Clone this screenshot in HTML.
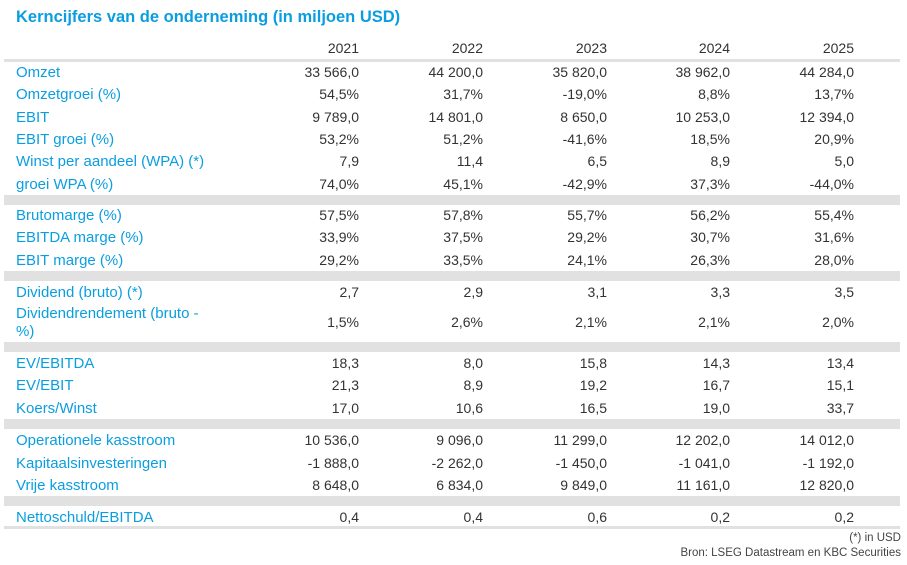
<!DOCTYPE html>
<html><head><meta charset="utf-8"><style>
body{margin:0;width:907px;height:565px;background:#fff;position:relative;font-family:"Liberation Sans",sans-serif;font-size:14px;color:#333;overflow:hidden}
div{position:absolute;white-space:nowrap}
.t{left:16px;top:8px;font-size:16.5px;font-weight:bold;color:#0a9ee0}
.l{left:16px;color:#0a9ee0;line-height:18px;font-size:15px;margin-top:1px}
.v{text-align:right;width:120px;line-height:18px}
.band{left:4px;width:896px;background:#e1e1e1}
.f{right:6px;font-size:11.5px;color:#444}
</style></head><body>
<div class="t">Kerncijfers van de onderneming (in miljoen USD)</div>
<div class="band" style="top:59px;height:3px"></div>
<div class="band" style="top:195px;height:10px"></div>
<div class="band" style="top:271px;height:10px"></div>
<div class="band" style="top:342px;height:10px"></div>
<div class="band" style="top:419px;height:10px"></div>
<div class="band" style="top:496px;height:10px"></div>
<div class="band" style="top:526px;height:3px"></div>

<div class="v" style="top:39px;left:239px">2021</div><div class="v" style="top:39px;left:363px">2022</div><div class="v" style="top:39px;left:487px">2023</div><div class="v" style="top:39px;left:610px">2024</div><div class="v" style="top:39px;left:734px">2025</div>

<div class="l" style="top:63px">Omzet</div><div class="v" style="top:63px;left:239px">33 566,0</div><div class="v" style="top:63px;left:363px">44 200,0</div><div class="v" style="top:63px;left:487px">35 820,0</div><div class="v" style="top:63px;left:610px">38 962,0</div><div class="v" style="top:63px;left:734px">44 284,0</div>
<div class="l" style="top:85px">Omzetgroei (%)</div><div class="v" style="top:85px;left:239px">54,5%</div><div class="v" style="top:85px;left:363px">31,7%</div><div class="v" style="top:85px;left:487px">-19,0%</div><div class="v" style="top:85px;left:610px">8,8%</div><div class="v" style="top:85px;left:734px">13,7%</div>
<div class="l" style="top:108px">EBIT</div><div class="v" style="top:108px;left:239px">9 789,0</div><div class="v" style="top:108px;left:363px">14 801,0</div><div class="v" style="top:108px;left:487px">8 650,0</div><div class="v" style="top:108px;left:610px">10 253,0</div><div class="v" style="top:108px;left:734px">12 394,0</div>
<div class="l" style="top:130px">EBIT groei (%)</div><div class="v" style="top:130px;left:239px">53,2%</div><div class="v" style="top:130px;left:363px">51,2%</div><div class="v" style="top:130px;left:487px">-41,6%</div><div class="v" style="top:130px;left:610px">18,5%</div><div class="v" style="top:130px;left:734px">20,9%</div>
<div class="l" style="top:152px">Winst per aandeel (WPA) (*)</div><div class="v" style="top:152px;left:239px">7,9</div><div class="v" style="top:152px;left:363px">11,4</div><div class="v" style="top:152px;left:487px">6,5</div><div class="v" style="top:152px;left:610px">8,9</div><div class="v" style="top:152px;left:734px">5,0</div>
<div class="l" style="top:175px">groei WPA (%)</div><div class="v" style="top:175px;left:239px">74,0%</div><div class="v" style="top:175px;left:363px">45,1%</div><div class="v" style="top:175px;left:487px">-42,9%</div><div class="v" style="top:175px;left:610px">37,3%</div><div class="v" style="top:175px;left:734px">-44,0%</div>

<div class="l" style="top:206px">Brutomarge (%)</div><div class="v" style="top:206px;left:239px">57,5%</div><div class="v" style="top:206px;left:363px">57,8%</div><div class="v" style="top:206px;left:487px">55,7%</div><div class="v" style="top:206px;left:610px">56,2%</div><div class="v" style="top:206px;left:734px">55,4%</div>
<div class="l" style="top:228px">EBITDA marge (%)</div><div class="v" style="top:228px;left:239px">33,9%</div><div class="v" style="top:228px;left:363px">37,5%</div><div class="v" style="top:228px;left:487px">29,2%</div><div class="v" style="top:228px;left:610px">30,7%</div><div class="v" style="top:228px;left:734px">31,6%</div>
<div class="l" style="top:251px">EBIT marge (%)</div><div class="v" style="top:251px;left:239px">29,2%</div><div class="v" style="top:251px;left:363px">33,5%</div><div class="v" style="top:251px;left:487px">24,1%</div><div class="v" style="top:251px;left:610px">26,3%</div><div class="v" style="top:251px;left:734px">28,0%</div>

<div class="l" style="top:283px">Dividend (bruto) (*)</div><div class="v" style="top:283px;left:239px">2,7</div><div class="v" style="top:283px;left:363px">2,9</div><div class="v" style="top:283px;left:487px">3,1</div><div class="v" style="top:283px;left:610px">3,3</div><div class="v" style="top:283px;left:734px">3,5</div>
<div class="l" style="top:304px">Dividendrendement (bruto -</div><div class="l" style="top:322px">%)</div><div class="v" style="top:313px;left:239px">1,5%</div><div class="v" style="top:313px;left:363px">2,6%</div><div class="v" style="top:313px;left:487px">2,1%</div><div class="v" style="top:313px;left:610px">2,1%</div><div class="v" style="top:313px;left:734px">2,0%</div>

<div class="l" style="top:354px">EV/EBITDA</div><div class="v" style="top:354px;left:239px">18,3</div><div class="v" style="top:354px;left:363px">8,0</div><div class="v" style="top:354px;left:487px">15,8</div><div class="v" style="top:354px;left:610px">14,3</div><div class="v" style="top:354px;left:734px">13,4</div>
<div class="l" style="top:376px">EV/EBIT</div><div class="v" style="top:376px;left:239px">21,3</div><div class="v" style="top:376px;left:363px">8,9</div><div class="v" style="top:376px;left:487px">19,2</div><div class="v" style="top:376px;left:610px">16,7</div><div class="v" style="top:376px;left:734px">15,1</div>
<div class="l" style="top:399px">Koers/Winst</div><div class="v" style="top:399px;left:239px">17,0</div><div class="v" style="top:399px;left:363px">10,6</div><div class="v" style="top:399px;left:487px">16,5</div><div class="v" style="top:399px;left:610px">19,0</div><div class="v" style="top:399px;left:734px">33,7</div>

<div class="l" style="top:431px">Operationele kasstroom</div><div class="v" style="top:431px;left:239px">10 536,0</div><div class="v" style="top:431px;left:363px">9 096,0</div><div class="v" style="top:431px;left:487px">11 299,0</div><div class="v" style="top:431px;left:610px">12 202,0</div><div class="v" style="top:431px;left:734px">14 012,0</div>
<div class="l" style="top:454px">Kapitaalsinvesteringen</div><div class="v" style="top:454px;left:239px">-1 888,0</div><div class="v" style="top:454px;left:363px">-2 262,0</div><div class="v" style="top:454px;left:487px">-1 450,0</div><div class="v" style="top:454px;left:610px">-1 041,0</div><div class="v" style="top:454px;left:734px">-1 192,0</div>
<div class="l" style="top:476px">Vrije kasstroom</div><div class="v" style="top:476px;left:239px">8 648,0</div><div class="v" style="top:476px;left:363px">6 834,0</div><div class="v" style="top:476px;left:487px">9 849,0</div><div class="v" style="top:476px;left:610px">11 161,0</div><div class="v" style="top:476px;left:734px">12 820,0</div>

<div class="l" style="top:508px">Nettoschuld/EBITDA</div><div class="v" style="top:508px;left:239px">0,4</div><div class="v" style="top:508px;left:363px">0,4</div><div class="v" style="top:508px;left:487px">0,6</div><div class="v" style="top:508px;left:610px">0,2</div><div class="v" style="top:508px;left:734px">0,2</div>

<div class="f" style="top:532px">(*) in USD</div>
<div class="f" style="top:547px">Bron: LSEG Datastream en KBC Securities</div>
</body></html>
